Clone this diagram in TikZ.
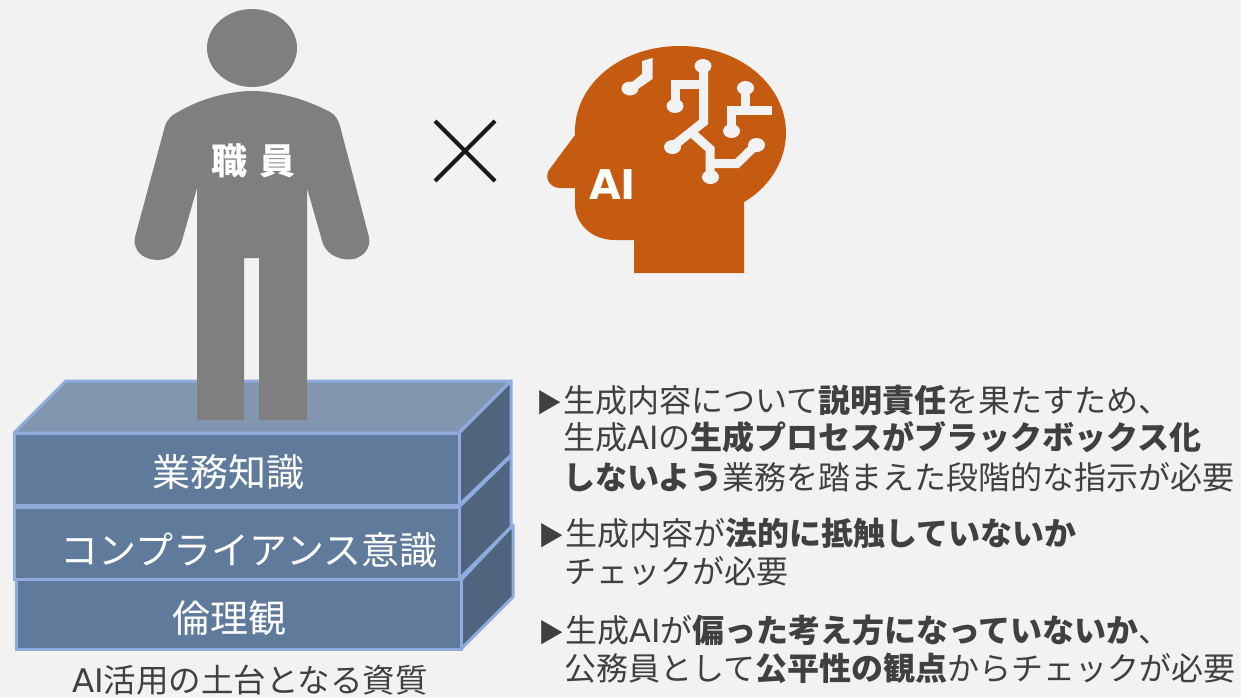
\documentclass[tikz,border=0pt]{standalone}
\usepackage{fontspec}
\setmainfont{Noto Sans CJK JP}
\newfontfamily\latinfont{DejaVu Sans}
\usetikzlibrary{positioning}
\definecolor{pagebg}{HTML}{F2F2F2}
\definecolor{figgray}{HTML}{7F7F7F}
\definecolor{headorange}{HTML}{C55A11}
\definecolor{boxfront}{HTML}{5F7A9B}
\definecolor{boxtop}{HTML}{8296B0}
\definecolor{boxside}{HTML}{50647E}
\definecolor{boxline}{HTML}{8FAADC}
\definecolor{bodytext}{HTML}{404040}
\tikzset{
  frontface/.style={fill=boxfront,draw=boxline,line width=3pt,inner sep=0pt},
  sideface/.style={fill=boxside,draw=boxline,line width=3pt,line join=round},
  topface/.style={fill=boxtop,draw=boxline,line width=3pt,line join=round},
  boxlabel/.style={text=white,font=\fontsize{38}{38}\selectfont,inner sep=0pt},
  bodyline/.style={text=bodytext,font=\fontsize{32}{32}\selectfont,anchor=west,inner sep=0pt},
  trace/.style={draw=pagebg,line width=9pt,fill=none},
  pad/.style={fill=pagebg,draw=none},
}
\newcommand{\bulletmark}{\makebox[24pt][l]{\hspace{-3pt}\fontsize{26}{26}\selectfont ▶}}
\begin{document}
\begin{tikzpicture}[x=1pt,y=-1pt]
  \useasboundingbox (0,0) rectangle (1241,697);
  \fill[pagebg] (0,0) rectangle (1241,697);

  % lowest block
  \draw[sideface] (461,649) -- (461,580) -- (513,525) -- (513,597) -- cycle;
  \node[frontface,minimum width=445pt,minimum height=70pt] (ethics) at (238.5,614.5) {};
  \node[boxlabel] (ethicslabel) at (229,618) {倫理観};

  % middle block
  \draw[sideface] (459,579) -- (459,507) -- (511,456) -- (511,527) -- cycle;
  \node[frontface,minimum width=445pt,minimum height=72pt] (comp) at (236.5,543.5) {};
  \node[boxlabel] (complabel) at (249,550) {コンプライアンス意識};

  % top block
  \draw[topface] (14,433) -- (66,381) -- (511,381) -- (459,433) -- cycle;
  \draw[sideface] (459,505) -- (459,433) -- (511,381) -- (511,455) -- cycle;
  \node[frontface,minimum width=445pt,minimum height=72pt] (work) at (236.5,469) {};
  \node[boxlabel] (worklabel) at (228,472) {業務知識};
  \node[text=bodytext,font=\fontsize{32.5}{32.5}\selectfont,inner sep=0pt] (caption) at (250,680.5) {{\latinfont AI}活用の土台となる資質};

  % person
  \fill[figgray] (252,48) ellipse (45 and 39);
  \fill[figgray] (197,420) -- (197,188) -- (181,244)
    .. controls (176,258) and (162,262) .. (150,259)
    .. controls (138,256) and (133,246) .. (135,237)
    -- (165,126) .. controls (168,118) and (172,115) .. (178,112)
    .. controls (205,96) and (235,91) .. (252,91)
    .. controls (270,91) and (300,96) .. (330,112)
    .. controls (336,115) and (338,120) .. (340,126)
    -- (369,237) .. controls (371,248) and (364,256) .. (354,259)
    .. controls (342,261) and (328,256) .. (323,244)
    -- (307,188) -- (307,420) -- (259,420) -- (259,258) -- (244,258) -- (244,420) -- cycle;
  \node[text=white,font=\fontsize{36}{36}\selectfont\bfseries,inner sep=0pt] (staff) at (253.5,161) {職\hspace{13pt}員};

  % cross
  \coordinate (crossa) at (435,121);
  \coordinate (crossb) at (495,181);
  \coordinate (crossc) at (495,121);
  \coordinate (crossd) at (435,181);
  \draw[black!90,line width=4pt] (crossa) -- (crossb);
  \draw[black!90,line width=4pt] (crossc) -- (crossd);

  % head
  \fill[headorange] (634,273) -- (634,240) -- (615,240)
    .. controls (590,240) and (575,222) .. (575,205)
    -- (575,188) -- (560,188)
    .. controls (550,188) and (544,178) .. (549,170)
    -- (575,135)
    .. controls (573,85) and (620,46) .. (680,46)
    .. controls (740,46) and (786,85) .. (786,133)
    .. controls (786,160) and (770,187) .. (744,202)
    -- (744,273) -- cycle;
  \node[text=white,font=\latinfont\bfseries\fontsize{41}{41}\selectfont,inner sep=0pt] (ailabel) at (612.5,185) {AI};

  % circuit on the head
  \fill[pagebg] (642,61) -- (652.5,58) -- (652.5,79) -- (638,89) -- (632,82) -- (642,74) -- cycle;
  \fill[pad] (630,88.5) ellipse (8.5 and 7);
  \draw[trace] (675,106) -- (675,84) -- (703.5,84);
  \draw[trace] (703.5,66) -- (703.5,122) -- (672,147);
  \draw[trace] (692,133) -- (710,149) -- (710,177);
  \draw[trace] (710,163.5) -- (737,163.5) -- (756,145);
  \draw[trace] (731.5,131) -- (731.5,110) -- (772,110);
  \draw[trace] (745.5,88) -- (745.5,110);
  \fill[pad] (703,66) ellipse (8.5 and 7);
  \fill[pad] (675,106) ellipse (8.5 and 7);
  \fill[pad] (745.5,88) ellipse (8.5 and 7);
  \fill[pad] (731.5,131) ellipse (8.5 and 7);
  \fill[pad] (672.5,147) ellipse (8.5 and 7);
  \fill[pad] (756.5,145) ellipse (8.5 and 7);
  \fill[pad] (710.5,177) ellipse (8.5 and 7);

  % bullet text
  \node[bodyline] (lineA) at (539,400) {\bulletmark 生成内容について\textbf{説明責任}を果たすため、};
  \node[bodyline] (lineB) at (563,437) {生成{\latinfont AI}の\textbf{生成プロセスがブラックボックス化}};
  \node[bodyline] (lineC) at (563,477) {\textbf{しないよう}業務を踏まえた段階的な指示が必要};
  \node[bodyline] (lineD) at (541,533) {\bulletmark 生成内容が\textbf{法的に抵触していないか}};
  \node[bodyline] (lineE) at (564,571) {チェックが必要};
  \node[bodyline] (lineF) at (541,630) {\bulletmark 生成{\latinfont AI}が\textbf{偏った考え方になっていないか}、};
  \node[bodyline] (lineG) at (564,668) {公務員として\textbf{公平性の観点}からチェックが必要};
\end{tikzpicture}
\end{document}
